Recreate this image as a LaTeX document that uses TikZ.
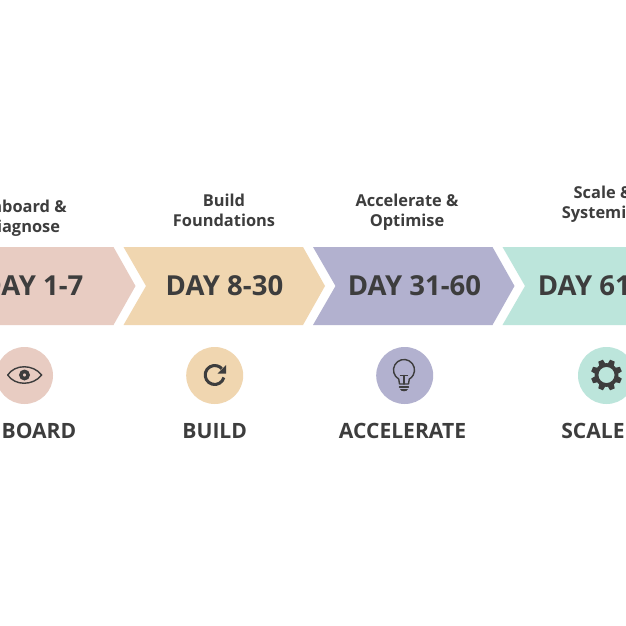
\documentclass[tikz,border=0pt]{standalone}
\usepackage{xcolor}
\usepackage{fontspec}
\setmainfont{Open Sans}
\usepackage{tikz}
\definecolor{onboardc}{HTML}{E8CCC2}
\definecolor{buildc}{HTML}{F0D6B0}
\definecolor{accelc}{HTML}{B2B1CF}
\definecolor{scalec}{HTML}{BCE5DB}
\definecolor{inkc}{HTML}{3D3D3D}
\tikzset{
  daylabel/.style={font=\fontsize{23.5}{26}\selectfont\bfseries,text=inkc,inner sep=0pt},
  aimlabel/.style={font=\fontsize{14}{17}\selectfont\bfseries,text=inkc,align=center,inner sep=0pt},
  stagelabel/.style={font=\fontsize{18}{21}\selectfont\bfseries,text=inkc,inner sep=0pt},
  iconline/.style={draw=inkc,line width=1.2pt,line join=round,line cap=round},
}
\begin{document}
\begin{tikzpicture}[x=0.03cm,y=-0.03cm]
  \useasboundingbox (0,0) rectangle (626,626);
  \fill[white] (0,0) rectangle (626,626);
  % chevrons and circles
  \foreach \xl/\c/\xc in {-66/onboardc/24.5,123.5/buildc/214.7,313/accelc/404.7,502.5/scalec/606.5}{
    \fill[\c] (\xl,247) -- ++(179.5,0) -- ++(22,39) -- ++(-22,39) -- ++(-179.5,0) -- ++(22.5,-39) -- cycle;
    \fill[\c] (\xc,375.5) circle (28.5);}
  % labels
  \foreach \n/\x/\d in {dayone/32.5/DAY 1-7,daytwo/224.5/DAY 8-30,daythree/414.5/DAY 31-60,dayfour/604.5/DAY 61-90}
    \node[daylabel] (\n) at (\x,285.5) {\d};
  \node[aimlabel] (aimone) at (22.5,218) {Onboard \&\\Diagnose};
  \node[aimlabel] (aimtwo) at (224,210.5) {Build\\Foundations};
  \node[aimlabel] (aimthree) at (407,212.5) {Accelerate \&\\Optimise};
  \node[aimlabel] (aimfour) at (603,204.5) {Scale \&\\Systemise};
  \foreach \n/\x/\d in {stageone/22/ONBOARD,stagetwo/214.7/BUILD,stagethree/402.5/ACCELERATE,stagefour/593/SCALE}
    \node[stagelabel] (\n) at (\x,431) {\d};
  % eye
  \draw[iconline] (7.7,375) .. controls (15,364) and (33,364) .. (41.7,375) .. controls (33,386) and (15,386) .. cycle;
  \draw[inkc,line width=3pt] (24.5,375) circle (3.6);
  % refresh
  \draw[inkc,line width=2.6pt] (214.7,375) ++(15:9.5) arc (15:318:9.5);
  \fill[inkc] (226,365) -- (226,373.5) -- (217.5,373.5) -- cycle;
  % bulb
  \draw[iconline] (404,370) ++(120:10.5) arc (120:420:10.5) -- (408.5,384) -- (399.5,384) -- cycle;
  \draw[iconline] (400.5,375.5) -- (407.5,375.5) (404,375.5) -- (404,384) (399.5,387) -- (408.5,387);
  \fill[inkc] (400,389) -- (408,389) .. controls (407.5,392) and (400.5,392) .. cycle;
  % gear
  \draw[inkc,line width=3.2pt] (606.5,375) circle (10);
  \foreach \a in {0,45,...,315}
    \fill[inkc,shift={(606.5,375)},rotate=\a+22.5] (10,-3.4) -- (15.5,-2.5) -- (15.5,2.5) -- (10,3.4) -- cycle;
\end{tikzpicture}
\end{document}
